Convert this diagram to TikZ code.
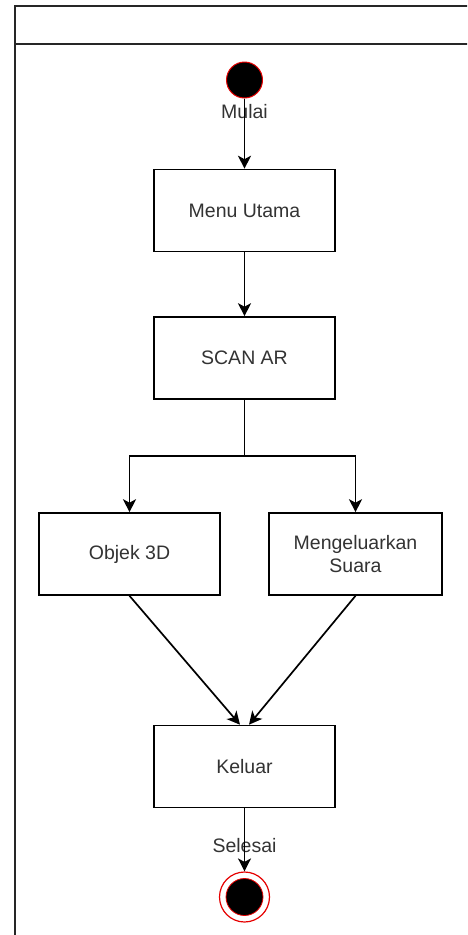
\documentclass[tikz,border=0pt]{standalone}
\usepackage{fontspec}
\setmainfont{Liberation Sans}
\usetikzlibrary{arrows.meta,calc}
\definecolor{txt}{RGB}{51,51,51}
\definecolor{redline}{RGB}{230,0,0}
\tikzset{
  box/.style={draw=black, line width=1.6pt, fill=white, rectangle, minimum width=181pt, minimum height=82pt, inner sep=2pt, text=txt, font=\fontsize{19.5}{23}\selectfont, align=center},
  lbl/.style={text=txt, font=\fontsize{19.5}{23}\selectfont, inner sep=0pt},
  arr/.style={line width=1.7pt, -{Stealth[length=13pt,width=13pt,inset=3.5pt]}},
  frame/.style={line width=2pt, draw=black!85}
}
\begin{document}
\begin{tikzpicture}[x=1pt,y=-1pt]
\useasboundingbox (0,0) rectangle (467,935);
\clip (0,0) rectangle (467,935);
% swimlane frame
\draw[frame] (15,960) -- (15,6) -- (490,6);
\draw[frame] (15,44) -- (490,44);
% start
\node[circle, fill=black, draw=redline, line width=1pt, minimum size=36pt, inner sep=0pt] (start) at (244.5,80) {};
\node[lbl] (mulai) at (244.5,112) {Mulai};
% boxes
\node[box] (menu) at (244.5,210.5) {Menu Utama};
\node[box] (scan) at (244.5,358) {SCAN AR};
\node[box] (objek) at (129.5,554) {Objek 3D};
\node[box, minimum width=173pt] (suara) at (355.5,554) {Mengeluarkan\\Suara};
\node[box] (keluar) at (244.5,766.5) {Keluar};
% end
\node[circle, draw=redline, line width=1.2pt, fill=white, minimum size=50pt, inner sep=0pt] (end) at (244.5,897) {};
\node[circle, fill=black, draw=redline, line width=0.8pt, minimum size=37pt, inner sep=0pt] (endin) at (244.5,897) {};
\node[lbl] (selesai) at (244.5,846) {Selesai};
% connectors
\draw[arr] (start.south) -- (menu.north);
\draw[arr] (menu.south) -- (scan.north);
\coordinate (split) at ($(scan.south)+(0,56)$);
\draw[line width=1.7pt] (scan.south) -- (split);
\draw[arr] (split) -| (objek.north);
\draw[arr] (split) -| (suara.north);
\draw[arr] (objek.south) -- ($(keluar.north)+(-4.5,0)$);
\draw[arr] (suara.south) -- ($(keluar.north)+(4.5,0)$);
\draw[arr] (keluar.south) -- (end.north);
\end{tikzpicture}
\end{document}
